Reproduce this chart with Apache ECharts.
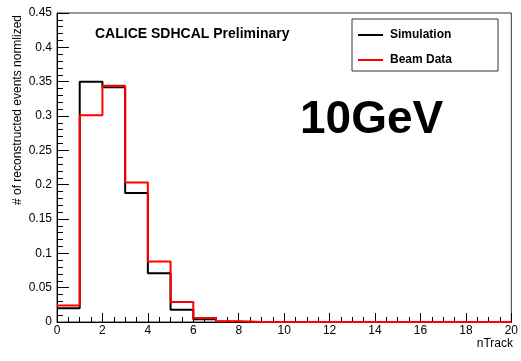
<!DOCTYPE html>
<html>
<head>
<meta charset="utf-8">
<script src="https://cdn.jsdelivr.net/npm/echarts@6/dist/echarts.min.js"></script>
<style>html,body{margin:0;padding:0;background:#fff}#c{width:521px;height:361px}</style>
</head>
<body>
<div id="c"></div>
<script>
// bin lower edges (nTrack), bin width 1, range 0..20
var binEdges = [0,1,2,3,4,5,6,7,8,9,10,11,12,13,14,15,16,17,18,19,20];
var simulation = [0.020,0.350,0.342,0.188,0.071,0.018,0.004,0.0005,0,0,0,0,0,0,0,0,0,0,0,0];
var beamData   = [0.024,0.301,0.344,0.203,0.088,0.029,0.006,0.001,0,0,0,0,0,0,0,0,0,0,0,0];
var seriesNames = ['Simulation','Beam Data'];
var yTicks = [0,0.05,0.1,0.15,0.2,0.25,0.3,0.35,0.4,0.45];
var xTicks = [0,2,4,6,8,10,12,14,16,18,20];

function histPoints(vals){
  var pts = [];
  for (var i = 0; i < vals.length; i++) pts.push([binEdges[i], vals[i]]);
  pts.push([binEdges[vals.length], vals[vals.length-1]]);
  return pts;
}

var FONT = 'Liberation Sans, Arial, Helvetica, sans-serif';
var chart = echarts.init(document.getElementById('c'), null, {renderer:'canvas'});
chart.setOption({
  animation:false,
  backgroundColor:'#fff',
  title:{text:'CALICE SDHCAL Preliminary', left:90, top:22,
    textStyle:{fontFamily:FONT, fontWeight:'bold', fontSize:14, color:'#000'}},
  grid:{left:57, right:8, top:13, bottom:39, show:true, borderColor:'#333', borderWidth:1, backgroundColor:'transparent'},
  legend:{
    data:seriesNames, orient:'vertical', left:352, top:19,
    padding:[10,46,5,6], itemWidth:25, itemHeight:2, icon:'rect', itemGap:13,
    borderColor:'#333', borderWidth:1, backgroundColor:'#fff', borderRadius:0,
    textStyle:{fontFamily:FONT, fontWeight:'bold', fontSize:12, color:'#000', padding:[0,0,0,2]}
  },
  xAxis:{type:'value', min:xTicks[0], max:xTicks[xTicks.length-1], interval:2,
    axisLine:{show:true, lineStyle:{color:'#000', width:1}},
    axisTick:{show:true, inside:true, length:9, lineStyle:{color:'#000'}},
    minorTick:{show:true, splitNumber:4, length:5, lineStyle:{color:'#000'}},
    splitLine:{show:false},
    axisLabel:{fontFamily:FONT, fontSize:12, color:'#000', margin:3}
  },
  yAxis:{type:'value', min:yTicks[0], max:yTicks[yTicks.length-1], interval:0.05,
    axisLine:{show:true, lineStyle:{color:'#000', width:1}},
    axisTick:{show:true, inside:true, length:12, lineStyle:{color:'#000'}},
    minorTick:{show:true, splitNumber:5, length:6, lineStyle:{color:'#000'}},
    splitLine:{show:false},
    axisLabel:{fontFamily:FONT, fontSize:12, color:'#000', margin:5}
  },
  graphic:[
    {type:'text', x:18, y:110, rotation:Math.PI/2, style:{text:'# of reconstructed events normlized', font:'12px '+FONT, fill:'#000', textAlign:'center', textVerticalAlign:'middle'}},
    {type:'text', x:513, y:344, style:{text:'nTrack', font:'12px '+FONT, fill:'#000', textAlign:'right', textVerticalAlign:'middle'}},
    {type:'text', x:300, y:120, style:{text:'10GeV', font:'bold 46px '+FONT, fill:'#000', textAlign:'left', textVerticalAlign:'middle'}}
  ],
  series:[
    {name:seriesNames[0], type:'line', step:'end', data:histPoints(simulation), showSymbol:false, symbol:'none',
      lineStyle:{color:'#000', width:2}, itemStyle:{color:'#000'}, z:2},
    {name:seriesNames[1], type:'line', step:'end', data:histPoints(beamData), showSymbol:false, symbol:'none',
      lineStyle:{color:'#ff0000', width:2}, itemStyle:{color:'#ff0000'}, z:3}
  ]
});
</script>
</body>
</html>
